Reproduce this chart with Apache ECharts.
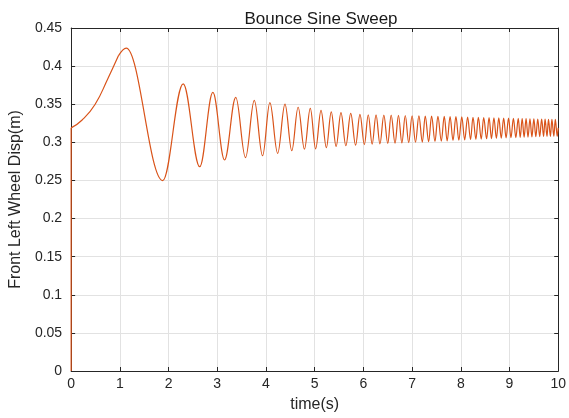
<!DOCTYPE html>
<html>
<head>
<meta charset="utf-8">
<script src="https://cdn.jsdelivr.net/npm/echarts@6.0.0/dist/echarts.min.js"></script>
<style>
  html, body { margin: 0; padding: 0; background: #fff; }
  #chart { width: 569px; height: 418px; }
</style>
</head>
<body>
<div id="chart"></div>
<script>
// ====== Bounce sine sweep ======
// initial step at t = 0
const stepTimes = [0, 0];
const stepValues = [0, 0.319];

// slow rise towards the first peak
const riseTimes = [0, 0.22, 0.49, 0.76, 0.97];
const riseValues = [0.319, 0.329, 0.3497, 0.3845, 0.4135];

// local maxima
const peakTimes = [
  1.13, 2.30, 2.91, 3.38, 3.76, 4.08, 4.39, 4.66, 4.91, 5.13, 5.34, 5.54, 5.74, 5.93,
  6.10, 6.26, 6.42, 6.57, 6.72, 6.86, 7.00, 7.14, 7.27, 7.40, 7.53, 7.66, 7.78, 7.90,
  8.02, 8.14, 8.25, 8.36, 8.47, 8.58, 8.68, 8.78, 8.88, 8.98, 9.08, 9.18, 9.26, 9.34,
  9.42, 9.50, 9.58, 9.66, 9.73, 9.80, 9.87, 9.94,
];
const peakValues = [
  0.4235, 0.3767, 0.3655, 0.359, 0.355, 0.352, 0.350, 0.346, 0.3445, 0.342, 0.340, 0.339, 0.338, 0.3367,
  0.3362, 0.3361, 0.3357, 0.3356, 0.3353, 0.3352, 0.3349, 0.3348, 0.3345, 0.3344, 0.3341, 0.3340, 0.3337, 0.3336,
  0.3333, 0.3332, 0.3329, 0.3328, 0.3325, 0.3324, 0.3321, 0.3320, 0.3318, 0.3317, 0.3315, 0.3314, 0.3312, 0.3311,
  0.3309, 0.3308, 0.3306, 0.3305, 0.3304, 0.3302, 0.3301, 0.3300,
];

// local minima
const troughTimes = [
  1.88, 2.64, 3.15, 3.58, 3.93, 4.24, 4.53, 4.79, 5.02, 5.24, 5.44, 5.64, 5.84,
  6.02, 6.18, 6.34, 6.50, 6.65, 6.79, 6.93, 7.07, 7.21, 7.34, 7.47, 7.60, 7.72, 7.84,
  7.96, 8.08, 8.20, 8.31, 8.42, 8.53, 8.63, 8.73, 8.83, 8.93, 9.03, 9.13, 9.22, 9.30,
  9.38, 9.46, 9.54, 9.62, 9.70, 9.77, 9.84, 9.91, 9.98,
];
const troughValues = [
  0.2498, 0.268, 0.2768, 0.280, 0.2824, 0.2855, 0.289, 0.291, 0.2915, 0.293, 0.2946, 0.2955, 0.2963,
  0.2970, 0.2976, 0.2980, 0.2985, 0.2988, 0.2993, 0.2996, 0.3001, 0.3004, 0.3009, 0.3012, 0.3017, 0.3020, 0.3025,
  0.3028, 0.3033, 0.3036, 0.3040, 0.3043, 0.3047, 0.3049, 0.3053, 0.3055, 0.3058, 0.3061, 0.3063, 0.3065, 0.3067,
  0.3069, 0.3071, 0.3073, 0.3075, 0.3077, 0.3078, 0.3079, 0.3080, 0.3080,
];

const endPoint = [10, 0.319];

const xTicks = { min: 0, max: 10, interval: 1 };
const yTicks = { min: 0, max: 0.45, interval: 0.05 };

const rise = riseTimes.map((t, i) => [t, riseValues[i]]);
const step = stepTimes.map((t, i) => [t, stepValues[i]]);

// oscillating part, picked up from the last rise point so the first peak is rounded
const sweep = [];
peakTimes.forEach((t, i) => sweep.push([t, peakValues[i]]));
troughTimes.forEach((t, i) => sweep.push([t, troughValues[i]]));
sweep.sort((a, b) => a[0] - b[0]);
sweep.unshift(rise[rise.length - 1]);
sweep.push(endPoint);

const lineColor = "#D95319";
const axisColor = "#262626";
const gridColor = "#e2e2e2";
const font = "Liberation Sans, Arial, sans-serif";

const lineStyle = { color: lineColor, width: 1.2 };

const chart = echarts.init(document.getElementById("chart"));
chart.setOption({
  animation: false,
  backgroundColor: "#fff",
  title: {
    text: "Bounce Sine Sweep",
    left: 316,
    textAlign: "center",
    top: 6,
    textStyle: { fontFamily: font, fontSize: 17, fontWeight: "normal", color: "#1a1a1a" },
  },
  grid: { left: 69, right: 6, top: 28, bottom: 45 },
  xAxis: [
    {
      type: "value",
      ...xTicks,
      name: "time(s)",
      nameLocation: "middle",
      nameGap: 26,
      nameTextStyle: { fontFamily: font, fontSize: 16, color: axisColor },
      axisLine: { lineStyle: { color: axisColor } },
      axisTick: { inside: true, length: 4, lineStyle: { color: axisColor } },
      axisLabel: { fontFamily: font, fontSize: 14, color: axisColor, margin: 6 },
      splitLine: { show: true, lineStyle: { color: gridColor } },
    },
    {
      type: "value",
      ...xTicks,
      position: "top",
      axisLine: { show: true, onZero: false, lineStyle: { color: axisColor } },
      axisTick: { inside: true, length: 4, lineStyle: { color: axisColor } },
      axisLabel: { show: false },
      splitLine: { show: false },
    },
  ],
  yAxis: [
    {
      type: "value",
      ...yTicks,
      name: "Front Left Wheel Disp(m)",
      nameLocation: "middle",
      nameGap: 44,
      nameTextStyle: { fontFamily: font, fontSize: 16, color: axisColor },
      axisLine: { show: true, lineStyle: { color: axisColor } },
      axisTick: { show: true, inside: true, length: 4, lineStyle: { color: axisColor } },
      axisLabel: {
        fontFamily: font, fontSize: 14, color: axisColor, margin: 9,
        formatter: (v) => String(+v.toFixed(2)),
      },
      splitLine: { show: true, lineStyle: { color: gridColor } },
    },
    {
      type: "value",
      ...yTicks,
      position: "right",
      axisLine: { show: true, onZero: false, lineStyle: { color: axisColor } },
      axisTick: { show: true, inside: true, length: 4, lineStyle: { color: axisColor } },
      axisLabel: { show: false },
      splitLine: { show: false },
    },
  ],
  series: [
    { type: "line", data: step, symbol: "none", lineStyle },
    { type: "line", data: rise, symbol: "none", smooth: 0.5, lineStyle },
    {
      type: "line",
      data: sweep,
      symbol: "none",
      smooth: 0.37,
      smoothMonotone: "x",
      lineStyle,
    },
  ],
});
</script>
</body>
</html>
